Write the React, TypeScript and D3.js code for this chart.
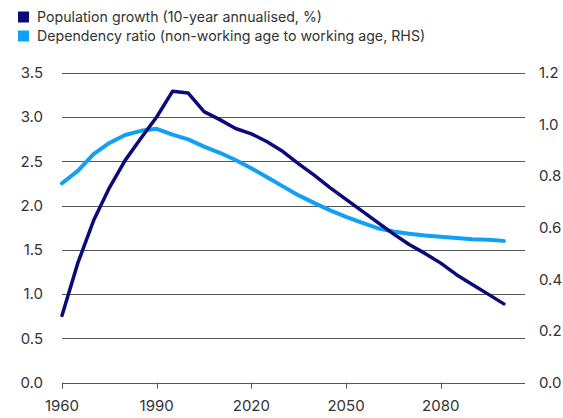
import React from "react";
import * as d3 from "d3";

const years = [1960,1965,1970,1975,1980,1985,1990,1995,2000,2005,2010,2015,2020,2025,2030,2035,2040,2045,2050,2055,2060,2065,2070,2075,2080,2085,2090,2095,2100];
const popGrowth = [0.76,1.35,1.83,2.2,2.51,2.76,3.0,3.29,3.27,3.06,2.97,2.87,2.81,2.72,2.61,2.47,2.34,2.2,2.07,1.94,1.81,1.68,1.56,1.46,1.35,1.22,1.11,1.0,0.89];
const depRatio = [0.772,0.82,0.885,0.928,0.959,0.975,0.983,0.96,0.942,0.914,0.89,0.862,0.83,0.795,0.76,0.725,0.695,0.667,0.642,0.62,0.598,0.585,0.577,0.57,0.565,0.56,0.555,0.553,0.549];
const leftTicks = [0,0.5,1.0,1.5,2.0,2.5,3.0,3.5];
const rightTicks = [0,0.2,0.4,0.6,0.8,1.0,1.2];
const xTicks = [1960,1990,2020,2050,2080];
const legendLabels = ["Population growth (10-year annualised, %)", "Dependency ratio (non-working age to working age, RHS)"];
const colors = ["#0a0a78", "#12a0f5"];

export default function App() {
  const W = 563, H = 418;
  const left = 62, right = 525, top = 72.7, bottom = 382.7;
  const x = d3.scaleLinear().domain([1960, 2106.7]).range([left, right]);
  const yL = d3.scaleLinear().domain([0, 3.5]).range([bottom, top]);
  const yR = d3.scaleLinear().domain([0, 1.2]).range([bottom, top]);
  const lineL = d3.line<number>().x((_, i) => x(years[i])).y(d => yL(d));
  const lineR = d3.line<number>().x((_, i) => x(years[i])).y(d => yR(d));
  const font = "Inter, 'DejaVu Sans', sans-serif";
  const textColor = "#333";
  return (
    <svg width={W} height={H} style={{ position: "absolute", left: 0, top: 0, background: "#fff" }} fontFamily={font}>
      {legendLabels.map((l, i) => (
        <g key={l}>
          <rect x={18} y={11.5 + i * 19} width={11} height={11} fill={colors[i]} />
          <text x={37} y={17 + i * 19} dy="0.35em" fontSize={14.2} fill={textColor}>{l}</text>
        </g>
      ))}
      {leftTicks.map(t => (
        <g key={"g" + t}>
          <line x1={left} x2={right} y1={Math.round(yL(t)) + 0.5} y2={Math.round(yL(t)) + 0.5} stroke="#555" strokeWidth={1} />
          <text x={43} y={yL(t)} dy="0.35em" textAnchor="end" fontSize={15} fill={textColor}>{t.toFixed(1)}</text>
        </g>
      ))}
      {rightTicks.map(t => (
        <text key={"r" + t} x={539} y={yR(t)} dy="0.35em" textAnchor="start" fontSize={15} fill={textColor}>{t.toFixed(1)}</text>
      ))}
      {xTicks.map(t => (
        <g key={"x" + t}>
          <line x1={Math.round(x(t)) + 0.5} x2={Math.round(x(t)) + 0.5} y1={bottom} y2={bottom + 6} stroke="#555" strokeWidth={1} />
          <text x={x(t)} y={406} dy="0.35em" textAnchor="middle" fontSize={15} fill={textColor}>{t}</text>
        </g>
      ))}
      <path d={lineR(depRatio) || ""} fill="none" stroke={colors[1]} strokeWidth={4} strokeLinejoin="round" strokeLinecap="round" />
      <path d={lineL(popGrowth) || ""} fill="none" stroke={colors[0]} strokeWidth={3.5} strokeLinejoin="round" strokeLinecap="round" />
    </svg>
  );
}
